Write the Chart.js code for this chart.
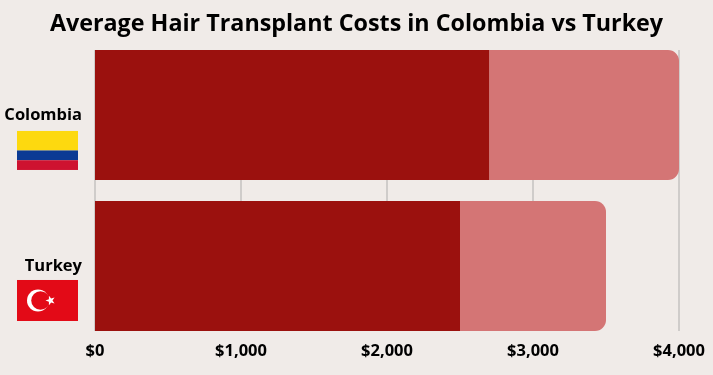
<!DOCTYPE html>
<html>
<head>
<meta charset="utf-8">
<script src="https://cdn.jsdelivr.net/npm/chart.js@4"></script>
<style>
  html, body { margin: 0; padding: 0; background: #f0ebe8; }
  #wrap { width: 713px; height: 375px; }
</style>
</head>
<body>
<div id="wrap"><canvas id="chart"></canvas></div>
<script>
const countries = ['Colombia', 'Turkey'];
const lowCost = [2700, 2500];
const extraCost = [1300, 1000];
const xTicks = [0, 1000, 2000, 3000, 4000];

function drawColombia(ctx, x, y, w, h) {
  ctx.fillStyle = '#fdd90f';
  ctx.fillRect(x, y, w, h * 0.5);
  ctx.fillStyle = '#0b3a94';
  ctx.fillRect(x, y + h * 0.5, w, h * 0.25);
  ctx.fillStyle = '#ce1230';
  ctx.fillRect(x, y + h * 0.75, w, h * 0.25);
}

function drawTurkey(ctx, x, y, w, h) {
  ctx.fillStyle = '#e30a17';
  ctx.fillRect(x, y, w, h);
  const cy = y + h / 2;
  ctx.fillStyle = '#fff';
  ctx.beginPath();
  ctx.arc(x + 21, cy, 11, 0, Math.PI * 2);
  ctx.fill();
  ctx.fillStyle = '#e30a17';
  ctx.beginPath();
  ctx.arc(x + 23.5, cy, 9.3, 0, Math.PI * 2);
  ctx.fill();
  // star
  ctx.fillStyle = '#fff';
  ctx.beginPath();
  for (let i = 0; i < 10; i++) {
    const r = i % 2 ? 2 : 5;
    const a = i * Math.PI / 5;
    const px = x + 33.5 - Math.cos(a) * r;
    const py = cy - Math.sin(a) * r;
    if (i === 0) ctx.moveTo(px, py); else ctx.lineTo(px, py);
  }
  ctx.closePath();
  ctx.fill();
}

// grid only spans from the top of the first bar to the bottom of the last one
const gridLines = {
  id: 'gridLines',
  beforeDatasetsDraw(chart) {
    const bars = chart.getDatasetMeta(0).data;
    const top = bars[0].y - bars[0].height / 2;
    const bottom = bars[1].y + bars[1].height / 2;
    const ctx = chart.ctx;
    ctx.save();
    ctx.strokeStyle = '#c4c2c0';
    ctx.lineWidth = 1.5;
    xTicks.forEach(t => {
      const x = Math.round(chart.scales.x.getPixelForValue(t));
      ctx.beginPath();
      ctx.moveTo(x, top);
      ctx.lineTo(x, bottom);
      ctx.stroke();
    });
    ctx.restore();
  }
};

const flags = {
  id: 'flags',
  afterDraw(chart) {
    const y = chart.scales.y;
    const ctx = chart.ctx;
    ctx.save();
    drawColombia(ctx, 17, y.getPixelForValue(0) + 16, 61, 39);
    drawTurkey(ctx, 17, y.getPixelForValue(1) + 14, 61, 41);
    ctx.restore();
  }
};

// title is centred on the whole canvas, not on the padded plot width
const centerTitle = {
  id: 'centerTitle',
  afterLayout(chart) {
    chart.titleBlock.left = 0;
    chart.titleBlock.right = chart.width;
  }
};

new Chart(document.getElementById('chart').getContext('2d'), {
  type: 'bar',
  data: {
    labels: countries,
    datasets: [
      {
        label: 'Low',
        data: lowCost,
        backgroundColor: '#9b110e',
        barPercentage: 1,
        categoryPercentage: 130 / 151,
      },
      {
        label: 'High',
        data: extraCost,
        backgroundColor: '#d47575',
        barPercentage: 1,
        categoryPercentage: 130 / 151,
        borderSkipped: false,
        borderRadius: { topLeft: 0, bottomLeft: 0, topRight: 11, bottomRight: 11 },
      },
    ],
  },
  options: {
    indexAxis: 'y',
    responsive: true,
    maintainAspectRatio: false,
    animation: false,
    layout: { padding: { left: 0, right: 34, top: 0, bottom: 0 } },
    scales: {
      x: {
        stacked: true,
        min: 0,
        max: 4000,
        grid: { display: false, drawTicks: false },
        border: { display: false },
        afterBuildTicks(axis) {
          axis.ticks = xTicks.map(v => ({ value: v }));
        },
        afterFit(axis) { axis.height = 33.5; },
        ticks: {
          color: '#000',
          padding: 0,
          maxRotation: 0,
          font: { family: '"Open Sans"', weight: 'bold', size: 16.5 },
          callback: v => '$' + v.toLocaleString('en-US'),
        },
      },
      y: {
        stacked: true,
        grid: { display: false, drawTicks: false },
        border: { display: false },
        afterFit(axis) { axis.width = 95; },
        ticks: {
          color: '#000',
          padding: 13,
          font: { family: '"Open Sans"', weight: 'bold', size: 16.5 },
        },
      },
    },
    plugins: {
      legend: { display: false },
      tooltip: { enabled: false },
      title: {
        display: true,
        text: 'Average Hair Transplant Costs in Colombia vs Turkey',
        color: '#000',
        font: { family: '"Open Sans"', weight: 'bold', size: 23.3 },
        padding: { top: 10.5, bottom: 1 },
      },
    },
  },
  plugins: [gridLines, flags, centerTitle],
});
</script>
</body>
</html>
